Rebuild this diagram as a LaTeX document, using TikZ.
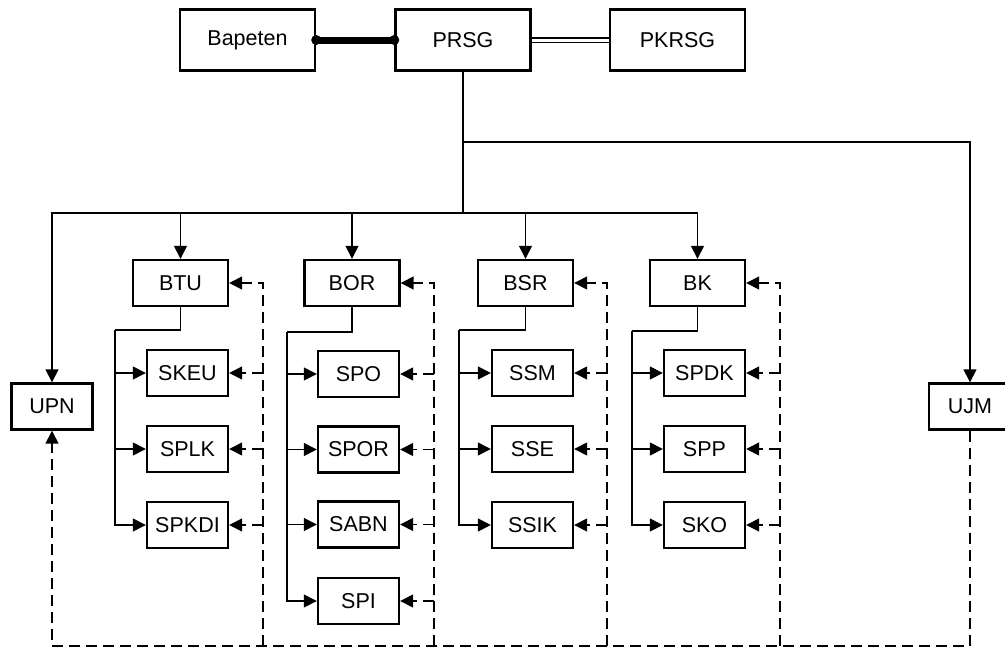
\documentclass[tikz,border=0pt]{standalone}
\usepackage{fontspec}
\setmainfont{Liberation Sans}
\usetikzlibrary{arrows.meta}
\begin{document}
\begin{tikzpicture}[x=1pt,y=-1pt,
  box/.style={draw, line width=2.4pt, inner sep=0pt, font=\fontsize{21.5pt}{25pt}\selectfont},
  topbox/.style={box, minimum width=135pt, minimum height=61pt},
  headbox/.style={box, minimum width=95pt, minimum height=46pt},
  subbox/.style={box, minimum width=81pt, minimum height=46pt},
  conn/.style={line width=1.5pt},
  arr/.style={conn, -{Triangle[length=13pt,width=13pt]}},
  dsh/.style={line width=1.5pt, dash pattern=on 11pt off 6pt},
  darr/.style={dsh, -{Triangle[length=13pt,width=13pt]}}]
\useasboundingbox (0,0) rectangle (1005,648);
\begin{scope}
\clip (0,0) rectangle (1005,648);
% top row
\node[topbox] (bap) at (247.5,40) {Bapeten};
\node[topbox] (prsg) at (463,40) {PRSG};
\node[topbox] (pkrsg) at (677.5,40) {PKRSG};
% heads
\node[headbox] (btu) at (180.5,283) {BTU};
\node[headbox] (bor) at (352,283) {BOR};
\node[headbox] (bsr) at (525.5,283) {BSR};
\node[headbox] (bk) at (697.5,283) {BK};
% units
\node[subbox] (upn) at (52,406.5) {UPN};
\node[box, minimum width=82pt, minimum height=46pt] (ujm) at (970,406.5) {UJM};
% BTU subs
\node[subbox] (skeu) at (187.5,373) {SKEU};
\node[subbox] (splk) at (187.5,449) {SPLK};
\node[subbox] (spkdi) at (187.5,525) {SPKDI};
% BOR subs
\node[subbox] (spo) at (358.5,374) {SPO};
\node[subbox] (spor) at (358.5,449.5) {SPOR};
\node[subbox] (sabn) at (358.5,524.5) {SABN};
\node[subbox] (spi) at (358.5,601) {SPI};
% BSR subs
\node[subbox] (ssm) at (532.5,373) {SSM};
\node[subbox] (sse) at (532.5,449) {SSE};
\node[subbox] (ssik) at (532.5,525) {SSIK};
% BK subs
\node[subbox] (spdk) at (704.5,373) {SPDK};
\node[subbox] (spp) at (704.5,449) {SPP};
\node[subbox] (sko) at (704.5,525) {SKO};

% top connections
\draw[line width=7pt] (bap.east) -- (prsg.west);
\fill (bap.east) circle (5pt);
\fill (prsg.west) circle (5pt);
\draw[line width=1.3pt, double distance=3pt] (prsg.east) -- (pkrsg.west);

% hierarchy
\coordinate (hub) at (463,213);
\coordinate (hubR) at (463,142);
\draw[conn] (prsg.south) -- (hub);
\draw[arr] (hubR) -| (ujm.north);
\draw[arr] (hub) -| (upn.north);
\draw[arr] (hub) -| (btu.north);
\draw[arr] (hub) -| (bor.north);
\draw[arr] (hub) -| (bsr.north);
\draw[arr] (hub) -| (bk.north);

% branches
\coordinate (btuL) at (115,330);
\coordinate (borL) at (287,332);
\coordinate (bsrL) at (459,330);
\coordinate (bkL) at (632,331);
\draw[conn] (btu.south) |- (btuL);
\draw[conn] (bor.south) |- (borL);
\draw[conn] (bsr.south) |- (bsrL);
\draw[conn] (bk.south) |- (bkL);
\foreach \s in {skeu,splk,spkdi} \draw[arr] (btuL) |- (\s.west);
\foreach \s in {spo,spor,sabn,spi} \draw[arr] (borL) |- (\s.west);
\foreach \s in {ssm,sse,ssik} \draw[arr] (bsrL) |- (\s.west);
\foreach \s in {spdk,spp,sko} \draw[arr] (bkL) |- (\s.west);

% dashed feedback
\coordinate (dtuT) at (263,283);
\coordinate (dorT) at (434,283);
\coordinate (dsrT) at (607,283);
\coordinate (dkT) at (780,283);
\coordinate (botL) at (52,646);
\coordinate (dtuB) at (263,646);
\coordinate (dorB) at (434,646);
\coordinate (dsrB) at (607,646);
\coordinate (dkB) at (780,646);
\draw[darr] (dtuB) -- (dtuT) -- (btu.east);
\draw[darr] (dorB) -- (dorT) -- (bor.east);
\draw[darr] (dsrB) -- (dsrT) -- (bsr.east);
\draw[darr] (dkB) -- (dkT) -- (bk.east);
\foreach \s in {skeu,splk,spkdi} \draw[darr] (dtuT |- \s) -- (\s.east);
\foreach \s in {spo,spor,sabn,spi} \draw[darr] (dorT |- \s) -- (\s.east);
\foreach \s in {ssm,sse,ssik} \draw[darr] (dsrT |- \s) -- (\s.east);
\foreach \s in {spdk,spp,sko} \draw[darr] (dkT |- \s) -- (\s.east);
\draw[darr] (ujm.south) |- (botL) -- (upn.south);
\end{scope}
\end{tikzpicture}
\end{document}
